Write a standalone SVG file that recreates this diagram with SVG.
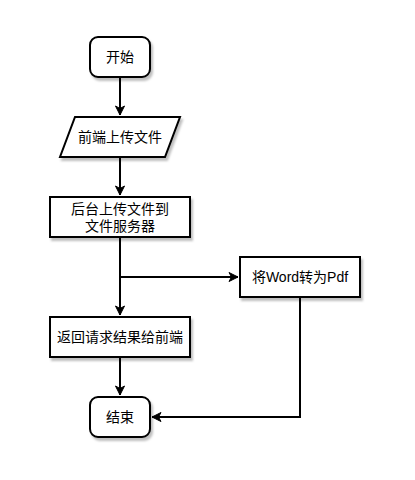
<svg xmlns="http://www.w3.org/2000/svg" width="415" height="480" viewBox="0 0 415 480">
<defs>
<filter id="sh" x="-20%" y="-20%" width="150%" height="160%">
<feDropShadow dx="2" dy="3" stdDeviation="1.2" flood-color="#000" flood-opacity="0.25"/>
</filter>
<marker id="a" markerWidth="12" markerHeight="12" refX="10" refY="6" orient="auto" markerUnits="userSpaceOnUse">
<path d="M1,1.5 L10,6 L1,10.5 L3.5,6 Z" fill="#000" stroke="#000" stroke-width="1"/>
</marker>
<style>
.n{fill:#fff;stroke:#000;stroke-width:2;filter:url(#sh)}
.t{font-family:"Liberation Sans","Noto Sans CJK SC",sans-serif;font-size:14px;fill:#000;text-anchor:middle;dominant-baseline:central}
.e{fill:none;stroke:#000;stroke-width:2;marker-end:url(#a)}
</style>
</defs>
<rect width="415" height="480" fill="#fff"/>
<g id="connectors">
<path class="e" d="M120,77 L120,115"/>
<path class="e" d="M120,157 L120,195"/>
<path class="e" d="M120,237 L120,315"/>
<path class="e" d="M120,277 L238,277"/>
<path class="e" d="M120,357 L120,395"/>
<path class="e" d="M300,297 L300,417 L152,417"/>
</g>
<g id="start">
<rect class="n" x="90" y="37" width="60" height="40" rx="8"/>
<text class="t" x="120" y="57">开始</text>
</g>
<g id="upload-front">
<polygon class="n" points="75,117 180,117 165,157 60,157"/>
<text class="t" x="120" y="137">前端上传文件</text>
</g>
<g id="upload-back">
<rect class="n" x="50" y="197" width="140" height="40"/>
<text class="t" x="120" y="209">后台上传文件到</text>
<text class="t" x="120" y="226">文件服务器</text>
</g>
<g id="convert">
<rect class="n" x="240" y="257" width="120" height="40"/>
<text class="t" x="300" y="277">将Word转为Pdf</text>
</g>
<g id="return">
<rect class="n" x="50" y="317" width="140" height="40"/>
<text class="t" x="120" y="337">返回请求结果给前端</text>
</g>
<g id="end">
<rect class="n" x="90" y="397" width="60" height="40" rx="8"/>
<text class="t" x="120" y="417">结束</text>
</g>
</svg>
